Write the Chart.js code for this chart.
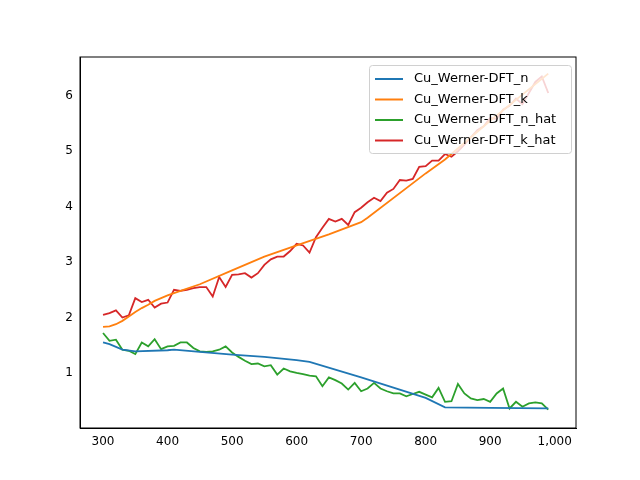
<!DOCTYPE html>
<html>
<head>
<script src="https://cdn.jsdelivr.net/npm/chart.js@4"></script>
<style>body{margin:0;background:#fff}</style>
</head>
<body>
<div style="width:640px;height:480px"><canvas id="myChart" width="640" height="480"></canvas></div>
<script>
var labels = ['Cu_Werner-DFT_n', 'Cu_Werner-DFT_k', 'Cu_Werner-DFT_n_hat', 'Cu_Werner-DFT_k_hat'];
var colors = ['#1f77b4', '#ff7f0e', '#2ca02c', '#d62728'];

var nX = [300, 310, 330, 350, 400, 410, 450, 500, 550, 600, 620, 700, 800, 830, 900, 990];
var nY = [1.55, 1.52, 1.42, 1.39, 1.41, 1.42, 1.38, 1.33, 1.29, 1.23, 1.20, 0.92, 0.55, 0.38, 0.37, 0.36];
var kX = [300, 310, 320, 330, 340, 350, 360, 370, 380, 390, 400, 420, 450, 500, 550, 600, 650, 700, 710, 800, 830, 900, 990];
var kY = [1.83, 1.84, 1.88, 1.94, 2.02, 2.10, 2.17, 2.23, 2.30, 2.35, 2.40, 2.48, 2.60, 2.85, 3.10, 3.30, 3.50, 3.72, 3.80, 4.60, 4.85, 5.55, 6.40];

var hatX = [];
for (let x = 300; x <= 990; x += 10) hatX.push(x);
var nHat = [1.72, 1.58, 1.60, 1.42, 1.40, 1.34, 1.55, 1.48, 1.61, 1.43, 1.48, 1.49, 1.55, 1.55, 1.45, 1.39, 1.38, 1.39, 1.42, 1.48,
  1.37, 1.29, 1.22, 1.16, 1.17, 1.12, 1.14, 0.97, 1.08, 1.03, 1.00, 0.98, 0.95, 0.94, 0.76, 0.92, 0.87, 0.81, 0.70, 0.82,
  0.67, 0.72, 0.82, 0.72, 0.67, 0.63, 0.63, 0.58, 0.62, 0.66, 0.61, 0.56, 0.73, 0.48, 0.49, 0.80, 0.63, 0.54, 0.51, 0.53,
  0.48, 0.63, 0.72, 0.36, 0.48, 0.39, 0.45, 0.47, 0.45, 0.34];
var kHat = [2.05, 2.08, 2.13, 2.00, 2.04, 2.35, 2.28, 2.32, 2.18, 2.25, 2.27, 2.50, 2.48, 2.50, 2.53, 2.55, 2.55, 2.38, 2.73, 2.55,
  2.77, 2.78, 2.80, 2.72, 2.80, 2.95, 3.05, 3.10, 3.10, 3.20, 3.33, 3.30, 3.17, 3.45, 3.62, 3.78, 3.73, 3.78, 3.67, 3.90,
  3.98, 4.08, 4.16, 4.10, 4.25, 4.32, 4.48, 4.47, 4.50, 4.72, 4.73, 4.83, 4.83, 4.95, 4.90, 5.00, 5.12, 5.25, 5.38, 5.45,
  5.60, 5.58, 5.75, 5.82, 5.95, 5.85, 6.05, 6.25, 6.35, 6.05];

var xTicks = [300, 400, 500, 600, 700, 800, 900, 1000];
var yTicks = [1, 2, 3, 4, 5, 6];

function pts(xs, ys) { return xs.map((x, i) => ({x: x, y: ys[i]})); }

var series = [pts(nX, nY), pts(kX, kY), pts(hatX, nHat), pts(hatX, kHat)];

var legendBox = {
  id: 'legendBox',
  afterDraw(chart) {
    var ctx = chart.ctx, a = chart.chartArea;
    var w = 202, h = 88, x0 = a.right - w - 5, y0 = a.top + 8;
    ctx.save();
    ctx.fillStyle = 'rgba(255,255,255,0.8)';
    ctx.strokeStyle = '#d0d0d0';
    ctx.lineWidth = 1;
    ctx.beginPath();
    ctx.roundRect(x0 + 0.5, y0 + 0.5, w, h, 3);
    ctx.fill(); ctx.stroke();
    ctx.font = '13px "DejaVu Sans"';
    ctx.textBaseline = 'middle';
    for (let i = 0; i < labels.length; i++) {
      var yy = y0 + 14 + i * 20.5;
      ctx.strokeStyle = colors[i]; ctx.lineWidth = 2;
      ctx.beginPath(); ctx.moveTo(x0 + 6, yy); ctx.lineTo(x0 + 34, yy); ctx.stroke();
      ctx.fillStyle = '#000';
      ctx.fillText(labels[i], x0 + 45, yy);
    }
    ctx.restore();
  }
};

var ctx = document.getElementById('myChart').getContext('2d');
new Chart(ctx, {
  type: 'line',
  data: {
    datasets: series.map((d, i) => ({
      label: labels[i], data: d, borderColor: colors[i], backgroundColor: colors[i],
      borderWidth: 1.8, pointRadius: 0, tension: 0, fill: false
    }))
  },
  options: {
    responsive: false, animation: false,
    layout: {padding: {left: 0, right: 64, top: 57, bottom: 0}},
    plugins: {legend: {display: false}, tooltip: {enabled: false}},
    scales: {
      x: {
        type: 'linear', min: 264.3, max: 1033,
        afterBuildTicks: s => { s.ticks = xTicks.map(v => ({value: v})); },
        afterFit: s => { s.height = 52; },
        grid: {display: false, drawTicks: true, tickLength: 4, tickColor: '#000'},
        border: {color: '#000'},
        ticks: {color: '#000', font: {family: 'DejaVu Sans', size: 12}, maxRotation: 0, padding: 3}
      },
      y: {
        min: 0.007, max: 6.70,
        afterBuildTicks: s => { s.ticks = yTicks.map(v => ({value: v})); },
        afterFit: s => { s.width = 80; },
        grid: {display: false, drawTicks: true, tickLength: 4, tickColor: '#000'},
        border: {color: '#000'},
        ticks: {color: '#000', font: {family: 'DejaVu Sans', size: 12}, padding: 3}
      }
    }
  },
  plugins: [legendBox, {
    id: 'frame',
    afterDraw(chart) {
      var c = chart.ctx, a = chart.chartArea;
      c.save(); c.strokeStyle = '#000'; c.lineWidth = 1;
      c.strokeRect(a.left, a.top, a.right - a.left, a.bottom - a.top);
      c.restore();
    }
  }]
});
</script>
</body>
</html>
